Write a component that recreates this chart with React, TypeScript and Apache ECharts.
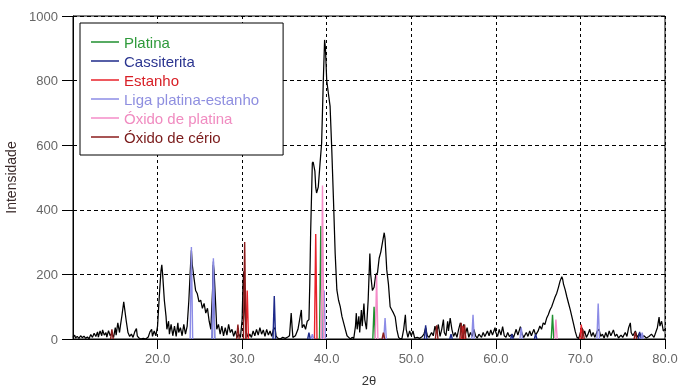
import React, { useEffect, useRef } from "react";
import * as echarts from "echarts";

// Difratograma (2θ, intensidade)
const pattern: [number, number][] = [
  [10.0,5],[10.2,12],[10.3,3],[10.5,8],[10.7,2],[10.9,10],[11.1,4],[11.3,9],[11.5,2],[11.7,6],[11.9,1],[12.1,14],[12.3,5],[12.5,18],[12.7,8],[12.9,22],[13.0,6],[13.2,25],[13.4,10],[13.5,28],[13.7,12],[13.9,20],[14.0,6],[14.2,26],[14.4,10],[14.6,18],[14.8,5],[15.0,35],[15.1,12],[15.3,50],[15.5,20],[15.6,40],[15.8,75],[16.0,115],[16.1,95],[16.3,55],[16.5,20],[16.7,8],[16.9,15],[17.1,5],[17.3,22],[17.5,32],[17.6,10],[17.8,3],[18.0,0],[18.3,2],[18.6,0],[18.9,6],[19.1,22],[19.3,30],[19.4,8],[19.6,25],[19.8,10],
  [20.0,40],[20.2,130],[20.4,210],[20.5,230],[20.6,200],[20.8,120],[21.0,70],[21.1,30],[21.3,55],[21.4,15],[21.6,45],[21.8,10],[22.0,40],[22.2,8],[22.4,50],[22.5,20],[22.7,35],[22.9,10],[23.1,45],[23.3,15],[23.5,40],[23.7,120],[23.9,230],[24.0,275],[24.1,230],[24.3,190],[24.5,150],[24.7,140],[24.9,115],[25.1,120],[25.3,95],[25.5,110],[25.7,80],[25.9,95],[26.1,55],[26.3,30],[26.5,150],[26.6,230],[26.7,200],[26.9,90],[27.0,30],[27.2,45],[27.4,15],[27.6,40],[27.8,10],[28.0,35],[28.2,12],[28.4,45],[28.6,20],[28.8,30],[29.0,8],[29.2,25],[29.4,5],[29.6,15],[29.8,5],
  [30.0,60],[30.1,170],[30.2,210],[30.3,90],[30.5,20],[30.7,5],[30.9,15],[31.1,5],[31.3,25],[31.5,10],[31.7,30],[31.9,12],[32.1,35],[32.3,15],[32.5,28],[32.7,8],[32.9,30],[33.1,12],[33.3,25],[33.5,8],[33.7,30],[33.9,35],[34.0,10],[34.2,3],[34.5,0],[34.8,5],[35.1,2],[35.4,6],[35.6,10],[35.8,80],[35.9,40],[36.0,5],[36.3,10],[36.6,30],[36.8,60],[37.0,90],[37.1,35],[37.3,45],[37.5,30],[37.7,55],[37.9,60],[38.0,173],[38.1,330],[38.3,545],[38.4,548],[38.6,520],[38.7,470],[38.8,452],[39.0,470],[39.2,540],[39.4,607],[39.6,802],[39.75,926],[39.85,900],
  [40.0,800],[40.2,760],[40.4,720],[40.6,585],[40.8,430],[41.0,265],[41.2,152],[41.4,120],[41.6,100],[41.8,70],[42.0,50],[42.2,30],[42.4,10],[42.6,5],[42.8,0],[43.0,5],[43.2,2],[43.4,40],[43.5,80],[43.6,30],[43.8,70],[43.9,20],[44.1,90],[44.2,40],[44.4,110],[44.5,60],[44.7,30],[44.9,120],[45.1,265],[45.2,200],[45.4,150],[45.6,160],[45.8,200],[46.0,204],[46.2,250],[46.4,270],[46.6,300],[46.8,329],[46.9,310],[47.1,214],[47.3,170],[47.5,100],[47.7,90],[47.9,80],[48.1,68],[48.3,28],[48.5,5],[48.7,0],[48.9,2],[49.1,30],[49.3,75],[49.4,30],[49.6,5],[49.8,25],
  [50.0,10],[50.2,25],[50.4,3],[50.7,5],[51.0,2],[51.3,8],[51.5,15],[51.7,35],[51.9,10],[52.1,5],[52.4,20],[52.6,10],[52.8,40],[53.0,20],[53.2,45],[53.4,8],[53.6,30],[53.8,60],[53.9,20],[54.1,10],[54.3,55],[54.4,25],[54.6,65],[54.8,30],[55.0,8],[55.2,20],[55.4,5],[55.6,30],[55.8,50],[56.0,25],[56.2,45],[56.4,15],[56.6,35],[56.8,5],[57.0,20],[57.2,8],[57.4,30],[57.6,10],[57.8,3],[58.0,15],[58.3,5],[58.5,20],[58.7,8],[59.0,25],[59.2,10],[59.4,28],[59.6,12],[59.9,35],
  [60.0,20],[60.2,8],[60.4,30],[60.6,12],[60.8,38],[61.0,10],[61.2,5],[61.4,20],[61.6,8],[61.9,15],[62.1,5],[62.4,30],[62.6,12],[62.9,38],[63.1,15],[63.3,5],[63.6,20],[63.8,8],[64.0,25],[64.2,10],[64.5,30],[64.7,12],[65.0,25],[65.2,40],[65.4,30],[65.6,50],[65.8,45],[66.0,64],[66.2,75],[66.4,90],[66.6,100],[66.8,115],[67.0,130],[67.2,142],[67.4,160],[67.6,180],[67.8,193],[67.9,185],[68.0,170],[68.2,152],[68.4,130],[68.6,110],[68.8,90],[69.0,68],[69.2,45],[69.4,22],[69.6,5],[69.8,2],
  [70.0,20],[70.2,35],[70.3,10],[70.5,25],[70.7,5],[70.9,15],[71.1,30],[71.3,8],[71.5,20],[71.7,5],[72.0,25],[72.2,30],[72.4,8],[72.6,15],[72.8,3],[73.0,20],[73.2,5],[73.4,25],[73.6,10],[73.9,28],[74.1,8],[74.3,15],[74.5,3],[74.8,12],[75.0,5],[75.3,20],[75.5,8],[75.7,35],[75.9,50],[76.0,20],[76.2,10],[76.5,25],[76.7,5],[77.0,18],[77.2,5],[77.5,10],[77.8,3],[78.1,8],[78.4,15],[78.7,5],[78.9,20],[79.1,35],[79.3,68],[79.4,40],[79.6,55],[79.8,25],[80.0,30],
];

// Padrões de referência (posição 2θ, intensidade)
const platina: [number, number][] = [[39.3,350],[45.6,100],[66.7,75]];
const cassiterita: [number, number][] = [[26.6,240],[33.8,133],[37.9,20],[51.7,42],[54.7,15],[61.9,15],[64.7,15],[77.0,22]];
const estanho: [number, number][] = [[30.6,150],[38.7,325],[56.1,40],[70.1,45]];
const ligaPtSn: [number, number][] = [[24.0,285],[26.6,250],[38.3,15],[39.7,150],[46.9,65],[57.3,75],[63.0,35],[72.1,110],[77.3,20]];
const oxidoPlatina: [number, number][] = [[39.5,475],[45.9,198],[67.1,60]];
const oxidoCerio: [number, number][] = [[14.6,30],[29.5,45],[30.3,300],[46.7,20],[53.0,42],[55.9,50],[56.3,45],[70.3,30],[76.5,22]];

const phaseNames = ["Platina", "Cassiterita", "Estanho", "Liga platina-estanho", "Óxido de platina", "Óxido de cério"];
const phaseData = [platina, cassiterita, estanho, ligaPtSn, oxidoPlatina, oxidoCerio];
const lineColors = ["#1f8f2f", "#1e2a8a", "#e8222a", "#8c8ce6", "#f58cc8", "#8b1c1c"];
const textColors = ["#2e9a3a", "#2b3590", "#d81f26", "#8f8fe0", "#f08bc0", "#7a1a1a"];

const xTicks = [10, 80, 10]; // min, max, interval
const yTicks = [0, 1000, 200];

function stickData(arr: [number, number][]) {
  const out: any[] = [];
  const hw = 0.15;
  arr.forEach(([x, h]) => {
    out.push([x - hw, 0], [x, h], [x + hw, 0], [x + hw, "-"]);
  });
  return out;
}

const FONT = "'Liberation Sans', Arial, sans-serif";

export default function App() {
  const ref = useRef<HTMLDivElement>(null);
  useEffect(() => {
    if (!ref.current) return;
    const chart = echarts.init(ref.current, undefined, { renderer: "svg" });
    const series: any[] = [
      {
        name: "Amostra",
        type: "line",
        data: pattern,
        showSymbol: false,
        symbol: "none",
        lineStyle: { color: "#000", width: 1.25 },
        z: 2,
      },
      ...phaseNames.map((n, i) => ({
        name: n,
        type: "line",
        data: stickData(phaseData[i]),
        showSymbol: false,
        symbol: "none",
        connectNulls: false,
        color: lineColors[i],
        lineStyle: { color: lineColors[i], width: 1.4 },
        z: 3,
      })),
    ];
    chart.setOption({
      animation: false,
      textStyle: { fontFamily: FONT },
      grid: {
        left: 73,
        right: 14,
        top: 16,
        bottom: 51,
        outerBoundsMode: "none",
        containLabel: false,
        show: true,
        borderColor: "#000",
        borderWidth: 1,
        backgroundColor: "#fff",
      },
      legend: {
        show: true,
        orient: "vertical",
        left: 80,
        top: 23,
        padding: [11, 24, 10, 11],
        backgroundColor: "#fff",
        borderColor: "#000",
        borderWidth: 1,
        borderRadius: 0,
        icon: "rect",
        itemWidth: 28,
        itemHeight: 1.5,
        itemGap: 3,
        selectedMode: false,
        textStyle: { fontSize: 15, lineHeight: 16, fontFamily: FONT },
        data: phaseNames.map((n, i) => ({ name: n, textStyle: { color: textColors[i] } })),
      },
      xAxis: {
        type: "value",
        min: xTicks[0],
        max: xTicks[1],
        interval: xTicks[2],
        name: "2θ",
        nameLocation: "middle",
        nameGap: 35,
        nameTextStyle: { color: "#333", fontSize: 13, fontFamily: FONT },
        axisLine: { show: true, lineStyle: { color: "#000", width: 1 } },
        axisTick: { show: true, inside: false, length: 10, lineStyle: { color: "#000" } },
        axisLabel: {
          color: "#666",
          fontSize: 13,
          margin: 13,
          showMinLabel: false,
          formatter: (v: number) => v.toFixed(1),
        },
        splitLine: { show: true, lineStyle: { color: "#000", type: [3, 3], width: 1 } },
      },
      yAxis: {
        type: "value",
        min: yTicks[0],
        max: yTicks[1],
        interval: yTicks[2],
        name: "Intensidade",
        nameLocation: "middle",
        nameGap: 50,
        nameTextStyle: { color: "#3a2a2a", fontSize: 14, fontFamily: FONT },
        axisLine: { show: true, lineStyle: { color: "#000", width: 1 } },
        axisTick: { show: true, inside: false, length: 11, lineStyle: { color: "#000" } },
        axisLabel: { color: "#666", fontSize: 13, margin: 15, formatter: (v: number) => String(v) },
        splitLine: { show: true, lineStyle: { color: "#000", type: [4, 3], width: 1 } },
      },
      series,
    });
    return () => chart.dispose();
  }, []);
  return <div ref={ref} style={{ position: "fixed", left: 0, top: 0, width: 679, height: 390 }} />;
}
